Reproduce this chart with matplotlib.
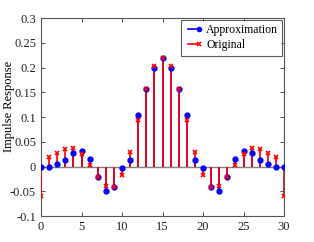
import matplotlib
matplotlib.use("Agg")
import matplotlib.pyplot as plt
from matplotlib.legend_handler import HandlerLine2D
import numpy as np

n = list(range(31))
approximation = [0.0, 0.0, 0.005, 0.014, 0.028, 0.032, 0.016, -0.022, -0.049, -0.042,
                 -0.004, 0.014, 0.104, 0.157, 0.198, 0.220, 0.198, 0.157, 0.104, 0.014,
                 -0.004, -0.042, -0.049, -0.022, 0.016, 0.032, 0.028, 0.014, 0.005, 0.0, 0.0]
original = [-0.060, 0.020, 0.028, 0.036, 0.037, 0.026, 0.004, -0.022, -0.040, -0.042,
            -0.017, 0.030, 0.093, 0.157, 0.203, 0.220, 0.203, 0.157, 0.093, 0.030,
            -0.017, -0.042, -0.040, -0.022, 0.004, 0.026, 0.037, 0.036, 0.028, 0.020, -0.060]

xticks = [0, 5, 10, 15, 20, 25, 30]
yticks = [-0.1, -0.05, 0, 0.05, 0.1, 0.15, 0.2, 0.25, 0.3]
ytick_labels = ["-0.1", "-0.05", "0", "0.05", "0.1", "0.15", "0.2", "0.25", "0.3"]


class EndMarkerHandler(HandlerLine2D):
    def create_artists(self, *args, **kwargs):
        arts = super().create_artists(*args, **kwargs)
        for a in arts:
            if len(a.get_xdata()) >= 2:
                a.set_markevery([len(a.get_xdata()) - 1])
        return arts


plt.rcParams['font.family'] = ['Liberation Serif', 'DejaVu Serif']
fig = plt.figure(figsize=(3.14, 2.42), dpi=100)
ax = fig.add_axes([0.1306, 0.1074, 0.7739, 0.8182])

ax.axhline(0, color='#808080', lw=1.0, zorder=1)
ax.vlines(n, 0, approximation, color='blue', lw=1.2, zorder=2)
ax.vlines(n, 0, original, color='red', lw=1.4, alpha=0.88, zorder=3)
ax.plot(n, approximation, 'o', color='blue', ms=3.5, zorder=4)
ax.plot(n, original, 'x', color='red', ms=3.5, mew=1.2, zorder=5)

h1, = ax.plot([], [], '-', color='blue', marker='o', ms=3, lw=1.2)
h2, = ax.plot([], [], '-', color='red', marker='x', ms=3, lw=1.2, mew=1.2)
leg = ax.legend([h1, h2], ['Approximation', 'Original'], loc='upper right',
                fontsize=8.5, frameon=True, fancybox=False, edgecolor='#333333',
                numpoints=2, handlelength=1.5, handletextpad=0.3, borderpad=0.35,
                labelspacing=0.3, borderaxespad=0.15,
                handler_map={h1: EndMarkerHandler(), h2: EndMarkerHandler()})
leg.get_frame().set_linewidth(0.8)

ax.set_xlim(0, 30)
ax.set_ylim(-0.1, 0.3)
ax.set_xticks(xticks)
ax.set_yticks(yticks)
ax.set_yticklabels(ytick_labels)
ax.tick_params(direction='in', top=True, right=True, labelsize=9, length=3, width=0.6,
               colors='#333333', labelcolor='#222222')
for s in ax.spines.values():
    s.set_color('#555555')
    s.set_linewidth(0.8)
ax.set_ylabel('Impulse Response', fontsize=9)
ax.yaxis.set_label_coords(-0.105, 0.555)

fig.savefig('out.png', dpi=100)
